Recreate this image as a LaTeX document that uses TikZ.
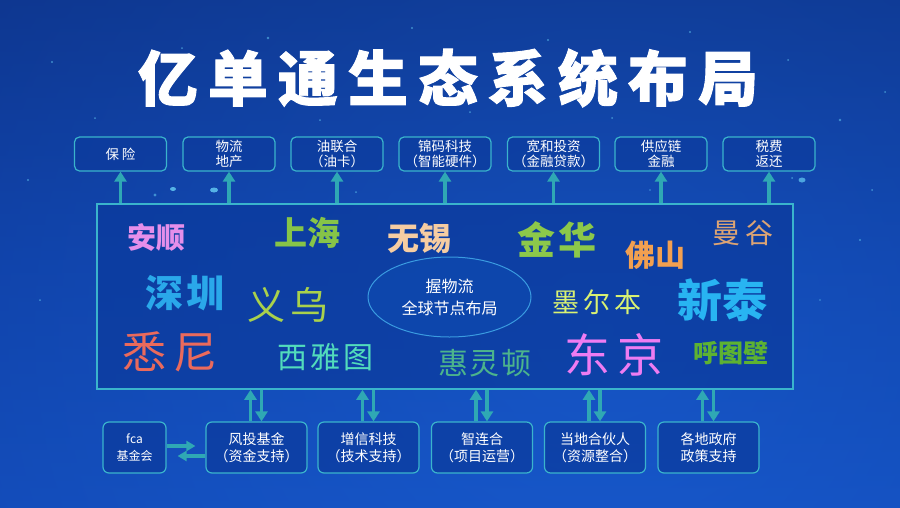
\documentclass[tikz,border=0pt]{standalone}
\usepackage{fontspec}
\setmainfont{Noto Sans CJK SC}
\newfontfamily\titlefont[FakeBold=1.5]{Noto Sans CJK SC}
\usetikzlibrary{arrows.meta,shapes.geometric}
\definecolor{bgdark}{HTML}{0A2670}
\definecolor{bgmid}{HTML}{0E3CA0}
\definecolor{bgbot}{HTML}{1450C2}
\definecolor{bglight}{HTML}{1A62D6}
\definecolor{boxline}{HTML}{3AB4CC}
\definecolor{boxfill}{HTML}{0B3A9C}
\definecolor{arr}{HTML}{2FA8B4}
\definecolor{ellline}{HTML}{3A9BE0}
\definecolor{ellfill}{HTML}{0D48AE}
\definecolor{cAnshun}{HTML}{E58FEA}
\definecolor{cShanghai}{HTML}{86C448}
\definecolor{cWuxi}{HTML}{F6CDA2}
\definecolor{cShenzhen}{HTML}{2AA8EA}
\definecolor{cYiwu}{HTML}{A9D14C}
\definecolor{cSydney}{HTML}{EA6A5C}
\definecolor{cSeattle}{HTML}{52DCBC}
\definecolor{cWellington}{HTML}{4CB48C}
\definecolor{cJinhua}{HTML}{8CC84A}
\definecolor{cFoshan}{HTML}{F2A050}
\definecolor{cBangkok}{HTML}{DCA474}
\definecolor{cMelbourne}{HTML}{D9F272}
\definecolor{cXintai}{HTML}{28B4F2}
\definecolor{cTokyo}{HTML}{EE7CF2}
\definecolor{cHutubi}{HTML}{5DB232}
\tikzset{
  x=1pt,y=-1pt,
  topbox/.style={draw=boxline,line width=1.2pt,rounded corners=5pt,fill=boxfill,fill opacity=0.6,text opacity=1,
    minimum width=92pt,minimum height=34pt,align=center,text=white,font=\fontsize{13.5}{15}\selectfont,inner sep=0pt},
  botbox/.style={draw=boxline,line width=1.2pt,rounded corners=6pt,fill=boxfill,fill opacity=0.7,text opacity=1,
    minimum width=101pt,minimum height=51pt,align=center,text=white,font=\fontsize{14}{17}\selectfont,inner sep=0pt},
  arrowup/.style={draw=arr,line width=3.5pt,-{Triangle[width=12pt,length=10pt]}},
  arrowh/.style={draw=arr,line width=3.5pt,-{Triangle[width=10pt,length=9pt]}},
  city/.style={inner sep=0pt,anchor=center},
  star/.style={fill=cyan!60!white,opacity=0.55},
}
\begin{document}
\begin{tikzpicture}
\useasboundingbox (0,0) rectangle (900,507);
\begin{scope}
\clip (0,0) rectangle (900,507);
\shade[top color=bgdark,bottom color=bgbot,middle color=bgmid] (0,0) rectangle (900,507);
\shade[inner color=bglight,outer color=bgmid,opacity=0.5] (600,330) circle (1000);
% stars
\foreach \sx/\sy/\sr in {52/62/1.2,95/118/1.0,182/48/1.0,268/38/1.3,320/120/1.0,412/28/1.2,470/112/1.0,548/40/1.1,
  612/118/1.0,690/32/1.2,788/60/1.0,840/120/1.3,872/190/1.0,820/300/0.9,860/240/1.1,40/300/1.0,28/180/1.1,
  155/195/1.6,356/192/1.0,792/178/1.0,885/92/1.0,650/190/0.9,230/185/0.9}
  \fill[star] (\sx,\sy) circle (\sr);
\fill[star,opacity=0.8] (214,190) ellipse (4 and 2.5);
\fill[star,opacity=0.8] (173,189) ellipse (3 and 2);
\fill[star,opacity=0.7] (802,180) ellipse (3.5 and 2.5);
\end{scope}

% title
\node[text=white,inner sep=0pt] (title) at (448,78)
  {\fontsize{60}{62}\selectfont\titlefont\bfseries 亿\hspace{10pt}单\hspace{10pt}通\hspace{10pt}生\hspace{10pt}态\hspace{10pt}系\hspace{10pt}统\hspace{10pt}布\hspace{10pt}局};

% main box
\node[draw=boxline,line width=1.5pt,fill=boxfill,fill opacity=0.7,minimum width=696pt,minimum height=185pt,inner sep=0pt] (main) at (445,296.5) {};

% top boxes
\node[topbox] (t1) at (120.5,154) {保\hspace{3pt}险};
\node[topbox] (t2) at (229,154) {物流\\地产};
\node[topbox] (t3) at (337,154) {油联合\\（油卡）};
\node[topbox] (t4) at (445,154) {锦码科技\\（智能硬件）};
\node[topbox] (t5) at (553.5,154) {宽和投资\\（金融贷款）};
\node[topbox] (t6) at (661,154) {供应链\\金融};
\node[topbox] (t7) at (769,154) {税费\\返还};

\foreach \t in {t1,t2,t3,t4,t5,t6,t7}
  \draw[arrowup] (\t.south |- main.north) -- (\t.south);

% ellipse
\node[ellipse,draw=ellline,line width=1pt,fill=ellfill,fill opacity=0.8,text opacity=1,minimum width=163pt,minimum height=80pt,
  align=center,text=white,font=\fontsize{16}{22}\selectfont,inner sep=0pt] (hub) at (449.5,297) {握物流\\全球节点布局};

% cities
\node[city,text=cAnshun] (anshun) at (156,238) {\fontsize{29}{30}\selectfont\bfseries 安顺};
\node[city,text=cShanghai] (shanghai) at (307,233) {\fontsize{33}{34}\selectfont\bfseries 上海};
\node[city,text=cWuxi] (wuxi) at (419,238) {\fontsize{32}{34}\selectfont\bfseries 无锡};
\node[city,text=cShenzhen] (shenzhen) at (185,293) {\fontsize{38}{40}\selectfont\bfseries 深\hspace{4pt}圳};
\node[city,text=cYiwu] (yiwu) at (288,305) {\fontsize{38}{40}\selectfont 义\hspace{6pt}乌};
\node[city,text=cSydney] (sydney) at (170,352) {\fontsize{44}{46}\selectfont 悉\hspace{8pt}尼};
\node[city,text=cSeattle] (seattle) at (325,357) {\fontsize{30}{32}\selectfont 西\hspace{3pt}雅\hspace{3pt}图};
\node[city,text=cWellington] (wellington) at (485,363) {\fontsize{30}{32}\selectfont 惠\hspace{2pt}灵\hspace{2pt}顿};
\node[city,text=cJinhua] (jinhua) at (557,240) {\fontsize{38}{40}\selectfont\bfseries 金\hspace{4pt}华};
\node[city,text=cFoshan] (foshan) at (655,255) {\fontsize{30}{32}\selectfont\bfseries 佛山};
\node[city,text=cBangkok] (bangkok) at (743,233) {\fontsize{28}{30}\selectfont 曼\hspace{5pt}谷};
\node[city,text=cMelbourne] (melbourne) at (597,302) {\fontsize{27}{30}\selectfont 墨\hspace{4pt}尔\hspace{4pt}本};
\node[city,text=cXintai] (xintai) at (722,300) {\fontsize{45}{47}\selectfont\bfseries 新泰};
\node[city,text=cTokyo] (tokyo) at (614,355) {\fontsize{46}{48}\selectfont 东\hspace{8pt}京};
\node[city,text=cHutubi] (hutubi) at (731,353) {\fontsize{25}{27}\selectfont\bfseries 呼图壁};

% bottom boxes
\node[botbox,minimum width=63pt,font=\fontsize{12}{17}\selectfont] (fca) at (134.5,447.5) {fca\\基金会};
\node[botbox] (b1) at (256.5,447.5) {风投基金\\（资金支持）};
\node[botbox] (b2) at (368.5,447.5) {增信科技\\（技术支持）};
\node[botbox] (b3) at (482,447.5) {智连合\\（项目运营）};
\node[botbox] (b4) at (595,447.5) {当地合伙人\\（资源整合）};
\node[botbox] (b5) at (708.5,447.5) {各地政府\\政策支持};

\foreach \b in {b1,b2,b3,b4,b5}{
  \draw[arrowup] ([xshift=-6pt]\b.north) -- ([xshift=-6pt]\b.north |- main.south);
  \draw[arrowup] ([xshift=5pt]\b.north |- main.south) -- ([xshift=5pt]\b.north);
}
% fca arrows
\coordinate (fcaR) at ([xshift=-10pt,yshift=1.5pt]b1.west);
\coordinate (fcaL) at ([xshift=11pt,yshift=-8.5pt]fca.east);
\draw[arrowh] ([yshift=1.5pt]fca.east) -- (fcaR);
\draw[arrowh] ([yshift=-8.5pt]b1.west) -- (fcaL);
\end{tikzpicture}
\end{document}
